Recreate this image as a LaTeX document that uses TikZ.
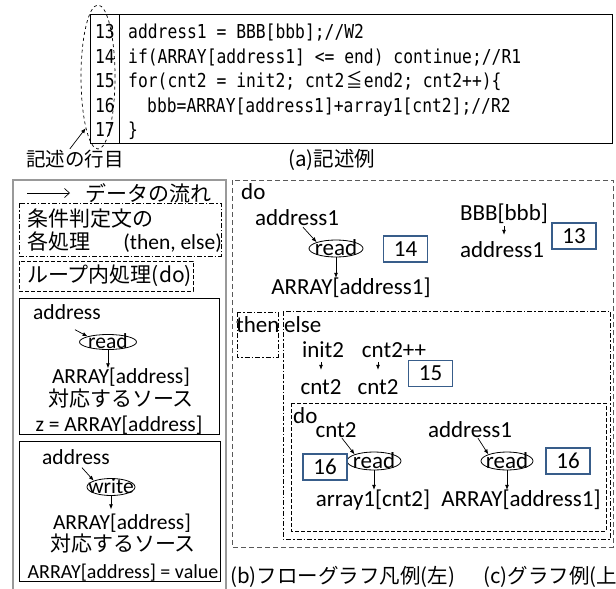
\documentclass[tikz,border=0pt]{standalone}
\usepackage{fontspec}
\setmainfont{Carlito}
\newfontfamily\jp{Noto Sans CJK JP}
\newfontfamily\codefont{DejaVu Sans Mono}[FakeStretch=0.85]
\newfontfamily\codejp{Noto Sans CJK JP}[FakeStretch=0.85]
\usetikzlibrary{shapes.geometric,arrows.meta,calc}
\definecolor{boxblue}{RGB}{56,93,138}
\newcommand\leqjp{{\codejp\makebox[19.6pt]{≦}}}

\begin{document}
\begin{tikzpicture}[x=1pt,y=-1pt,
  gl/.style={inner sep=0pt, font=\fontsize{23}{27}\selectfont, text height=16pt, text depth=2pt},
  ll/.style={inner sep=0pt, font=\fontsize{21.5}{25}\selectfont, text height=15pt, text depth=2pt},
  jl/.style={inner sep=0pt, font=\fontsize{21}{25}\selectfont\jp, text height=15pt, text depth=2pt},
  captxt/.style={inner sep=0pt, font=\fontsize{20.5}{24}\selectfont\jp, text height=15pt, text depth=2pt},
  ell/.style={draw, ellipse, inner sep=0pt, line width=0.8pt},
  arr/.style={-{Latex[length=5pt,width=4pt]}, line width=0.7pt},
  numbox/.style={draw=boxblue, line width=1.8pt, inner sep=0pt, minimum width=44pt,
    minimum height=26pt, font=\fontsize{23}{27}\selectfont},
  codeln/.style={anchor=base west, inner sep=0pt, font=\fontsize{19.2}{22}\codefont},
  dashg/.style={dash pattern=on 5pt off 3pt, draw=black!65, line width=0.9pt},
  dashdot/.style={dash pattern=on 5pt off 2pt on 1.5pt off 2pt, line width=0.8pt},
  dashsh/.style={dash pattern=on 4pt off 2pt, line width=0.8pt}]
\useasboundingbox (0,0) rectangle (616,589);

% ---------- (a) source listing ----------
\draw[line width=1pt] (90,14) rectangle (612,143);
\draw[line width=0.8pt] (119,14) -- (119,143);
\foreach \n/\y in {13/38.5,14/63,15/87.5,16/112,17/136.5}
  \node[codeln, anchor=base east] (n\n) at (115,\y) {\n};
\node[codeln] (c13) at (128,38.5) {address1 = BBB[bbb];//W2};
\node[codeln] (c14) at (128,63) {if(ARRAY[address1] <= end) continue;//R1};
\node[codeln] (c15) at (128,87.5) {for(cnt2 = init2; cnt2\leqjp end2; cnt2++)\{};
\node[codeln] (c16) at (147,112) {bbb=ARRAY[address1]+array1[cnt2];//R2};
\node[codeln] (c17) at (128,136.5) {\}};
\node[draw, dashed, ellipse, minimum width=34pt, minimum height=144pt, inner sep=0pt,
  line width=0.7pt] (lnell) at (98,77) {};
\node[captxt, font=\fontsize{19.5}{23}\selectfont\jp] (lnlab) at (75,160) {記述の行目};
\draw[arr, shorten <=3pt] ([xshift=-7pt]lnlab.north) -- (lnell.south west);
\node[captxt, anchor=west] (capa) at (288,160) {(a)記述例};

% ---------- (b) legend ----------
\draw[gray!80, line width=1.2pt] (13,600) -- (13,180) -- (226,180) -- (226,600);
\coordinate (fa) at (27,193);
\coordinate (fb) at (70,193);
\draw[-{Straight Barb[length=5pt,width=9pt]}, line width=0.7pt] (fa) -- (fb);
\node[jl, anchor=west] (flow) at (85,195) {データの流れ};

\draw[dashdot] (19,203) rectangle (221,256);
\node[jl, anchor=west] (cond1) at (27,220) {条件判定文の};
\node[jl, anchor=west] (cond2) at (27,243) {各処理};
\node[ll, anchor=east] (cond3) at (222,243) {(then, else)};

\draw[dashsh] (19,261) rectangle (193,291);
\node[jl, anchor=west] (loop) at (27,276) {ループ内処理(do)};

\draw[line width=0.8pt] (19,298) rectangle (219,434);
\node[ll] (la) at (67,313) {address};
\node[ell, minimum width=57pt, minimum height=15pt] (lr) at (108,342) {};
\node[ll] (lrt) at (lr) {read};
\draw[arr] ($(la.south)+(8,8)$) -- (lr.north west);
\node[ll] (lA) at (121,377) {ARRAY[address]};
\draw[arr] (lr.south) -- (lr.south |- lA.north);
\node[jl] (ls) at (121,400) {対応するソース};
\node[ll] (lz) at (119,425) {z = ARRAY[address]};

\draw[line width=0.8pt] (19,441) rectangle (220,581);
\node[ll] (wa) at (76,458) {address};
\node[ell, minimum width=48pt, minimum height=17pt] (wr) at (111,487) {};
\node[ll] (wrt) at (wr) {write};
\draw[arr] ($(wa.south)+(6,1)$) -- (wr.north west);
\node[ll] (wA) at (122,523) {ARRAY[address]};
\draw[arr, shorten >=5pt] (wr.south) -- (wr.south |- wA.north);
\node[jl] (ws) at (123,545) {対応するソース};
\node[ll, font=\fontsize{20}{24}\selectfont] (wv) at (123,572) {ARRAY[address] = value};

% ---------- (c) flow graph ----------
\draw[dashg] (232,180) rectangle (613,547);
\node[gl, anchor=west] (do1) at (241,192) {do};
\node[gl] (ga1) at (297,218) {address1};
\node[ell, minimum width=54pt, minimum height=17pt] (gr1) at (336,248.5) {};
\node[gl] (gr1t) at (gr1) {read};
\draw[arr] ($(ga1.south)+(6,0)$) -- (gr1.north west);
\node[gl] (gA1) at (351,287) {ARRAY[address1]};
\draw[arr] (gr1.south) -- (gr1.south |- gA1.north);
\node[numbox] (b14) at (405.5,249) {14};

\node[gl] (gb) at (504,213) {BBB[bbb]};
\node[gl] (ga2) at (502,250) {address1};
\draw[arr, shorten <=4pt, shorten >=6pt] (gb.south) -- (gb.south |- ga2.north);
\node[numbox] (b13) at (574,236) {13};

\draw[dashdot] (237,312) rectangle (278,357);
\node[gl, anchor=west] (tthen) at (236,325) {then};
\draw[dashdot] (283,311) rectangle (610,539);
\node[gl, anchor=west] (telse) at (284,325) {else};

\node[gl] (gi) at (323,350) {init2};
\node[gl] (gc) at (394,350) {cnt2++};
\node[gl] (gc1) at (321,387) {cnt2};
\node[gl] (gc2) at (378,387) {cnt2};
\draw[arr, shorten <=3pt, shorten >=8pt] (gi.south -| gc1) -- (gc1.north);
\draw[arr, shorten <=3pt, shorten >=8pt] (gc.south -| gc2) -- (gc2.north);
\node[numbox] (b15) at (430.5,373.5) {15};

\draw[dashsh] (291,403) rectangle (606,531);
\node[gl, anchor=west] (do2) at (293,416) {do};
\node[gl] (gc3) at (336,430) {cnt2};
\node[gl] (ga3) at (470,430) {address1};
\node[ell, minimum width=54pt, minimum height=18pt] (gr2) at (374,461) {};
\node[gl] (gr2t) at (gr2) {read};
\node[ell, minimum width=52pt, minimum height=18pt] (gr3) at (507,461) {};
\node[gl] (gr3t) at (gr3) {read};
\draw[arr] ($(gc3.south)+(6,-1)$) -- (gr2.north west);
\draw[arr] ($(ga3.south)+(8,-1)$) -- (gr3.north west);
\node[gl] (gar) at (373,499) {array1[cnt2]};
\node[gl] (gA2) at (521,499) {ARRAY[address1]};
\draw[arr] (gr2.south) -- (gr2.south |- gar.north);
\draw[arr] (gr3.south) -- (gr3.south |- gA2.north);
\node[numbox] (b16a) at (325,467) {16};
\node[numbox] (b16b) at (568,461) {16};

% ---------- captions ----------
\node[captxt, anchor=west] (capb) at (230,577) {(b)フローグラフ凡例(左)};
\node[captxt, anchor=west] (capc) at (483,577) {(c)グラフ例(上};
\end{tikzpicture}
\end{document}
